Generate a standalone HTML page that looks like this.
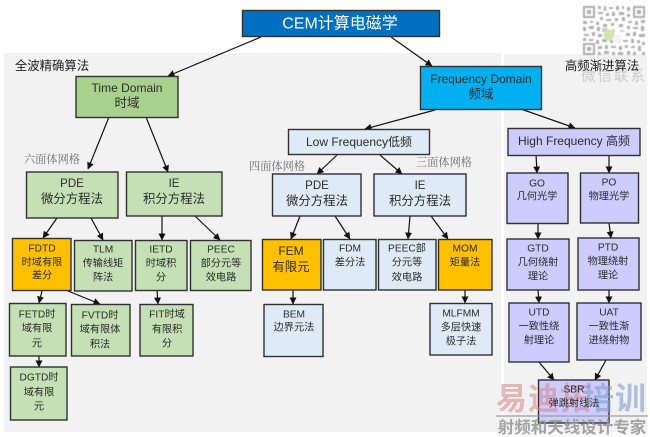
<!DOCTYPE html>
<html><head><meta charset="utf-8">
<style>
html,body{margin:0;padding:0;background:#fff;width:650px;height:437px;overflow:hidden}
svg{display:block}
text{font-family:"Liberation Sans","Noto Sans CJK SC",sans-serif;fill:#2b2b2b;text-anchor:middle;dominant-baseline:central}
.b rect{stroke:#303030;stroke-width:1.4}
.l{fill:#c5e0b4}.d{fill:#a9d18e}.o{fill:#ffc000}.p{fill:#deebf7}.v{fill:#ccccff}
.a line{stroke:#111;stroke-width:1.2;marker-end:url(#h)}
.s{font-size:10.2px}.m{font-size:12.4px}.t{font-size:11.5px}
.g{font-family:"Liberation Serif","Noto Serif CJK SC",serif;font-size:11.2px;fill:#6e6e6e}
</style></head><body>
<svg width="650" height="437" viewBox="0 0 650 437" xmlns="http://www.w3.org/2000/svg">
<defs>
<marker id="h" markerUnits="userSpaceOnUse" markerWidth="8" markerHeight="8" refX="6.5" refY="3.5" orient="auto"><path d="M0 0L7 3.5L0 7Z" fill="#111"/></marker>
<filter id="q" x="-5%" y="-5%" width="110%" height="110%"><feGaussianBlur stdDeviation="0.45"/></filter>
</defs>
<rect width="650" height="437" fill="#fff"/>
<rect x="4" y="53" width="497" height="379" fill="#f2f2f2"/>
<rect x="504" y="54" width="143" height="378" fill="#f2f2f2"/>

<!-- QR watermark -->
<g fill="#a0a0a0" opacity=".85" filter="url(#q)">
<path fill-rule="evenodd" d="M583 6h12v12h-12zM585 8v8h8v-8zM587 10h4v4h-4zM633 6h12v12h-12zM635 8v8h8v-8zM637 10h4v4h-4zM583 43h12v12h-12zM585 45v8h8v-8zM587 47h4v4h-4z"/>
<path d="M598 6h3v3h-3zM604 6h2v5h-2zM609 7h4v2h-4zM616 6h3v4h-3zM622 6h2v3h-2zM627 7h3v4h-3zM598 12h5v2h-5zM606 13h3v3h-3zM612 12h3v4h-3zM619 12h5v3h-5zM627 14h3v3h-3zM600 17h3v3h-3zM606 19h5v2h-5zM615 18h3v3h-3zM622 17h3v4h-3zM583 21h4v3h-4zM590 21h3v2h-3zM596 22h3v3h-3zM628 21h4v2h-4zM635 21h3v4h-3zM641 20h4v3h-4zM583 27h3v4h-3zM589 26h5v3h-5zM597 27h3v4h-3zM603 24h4v3h-4zM611 23h3v3h-3zM619 24h4v3h-4zM627 26h3v3h-3zM633 27h5v2h-5zM641 26h3v5h-3zM584 34h5v2h-5zM592 32h3v4h-3zM598 34h4v3h-4zM626 33h4v3h-4zM633 32h3v4h-3zM639 34h6v3h-6zM583 38h3v3h-3zM589 39h4v2h-4zM596 40h3v4h-3zM602 39h5v3h-5zM610 40h3v3h-3zM617 38h3v5h-3zM623 40h5v2h-5zM631 39h3v4h-3zM637 40h3v3h-3zM642 42h3v3h-3zM598 46h4v3h-4zM605 45h3v4h-3zM611 46h5v2h-5zM619 46h3v4h-3zM625 45h3v3h-3zM631 46h4v2h-4zM638 46h3v5h-3zM598 52h3v3h-3zM604 51h5v3h-5zM612 52h3v3h-3zM618 52h5v3h-5zM627 51h3v4h-3zM633 52h3v3h-3zM642 52h3v3h-3z"/>
<path d="M602 28h6v4h-6zM612 29h3v3h-3zM620 30h4v2h-4z" opacity=".6"/>
</g>
<circle cx="609" cy="35" r="5.5" fill="#cfe6a8"/>
<circle cx="617" cy="39" r="4.5" fill="#f4f4f4"/>
<text x="614" y="77" style="font-size:14.5px;letter-spacing:2px;fill:#cbcbcb">微信联系</text>

<!-- connectors -->
<g class="a">
<line x1="261" y1="37" x2="168" y2="76"/>
<line x1="391" y1="37" x2="432" y2="66"/>
<line x1="109" y1="117" x2="88" y2="169"/>
<line x1="146" y1="117" x2="168" y2="172"/>
<line x1="435" y1="110" x2="365" y2="129"/>
<line x1="518" y1="108" x2="575" y2="128"/>
<line x1="337" y1="155" x2="317" y2="174"/>
<line x1="380" y1="155" x2="402" y2="174"/>
<line x1="536" y1="154" x2="537" y2="173"/>
<line x1="609" y1="156" x2="609" y2="173"/>
<line x1="57" y1="218" x2="43" y2="238"/>
<line x1="91" y1="218" x2="103" y2="240"/>
<line x1="162" y1="216" x2="162" y2="240"/>
<line x1="195" y1="216" x2="220" y2="240"/>
<line x1="300" y1="216" x2="291" y2="239"/>
<line x1="335" y1="216" x2="350" y2="239"/>
<line x1="410" y1="216" x2="408" y2="239"/>
<line x1="431" y1="216" x2="448" y2="239"/>
<line x1="538" y1="224" x2="538" y2="239"/>
<line x1="609" y1="223" x2="611" y2="238"/>
<line x1="42" y1="291" x2="39" y2="303"/>
<line x1="68" y1="291" x2="100" y2="304"/>
<line x1="157" y1="290" x2="158" y2="304"/>
<line x1="293" y1="290" x2="293" y2="304"/>
<line x1="465" y1="290" x2="465" y2="303"/>
<line x1="538" y1="290" x2="539" y2="303"/>
<line x1="609" y1="290" x2="609" y2="303"/>
<line x1="39" y1="354" x2="39" y2="367"/>
<line x1="539" y1="362" x2="554" y2="380"/>
<line x1="606" y1="360" x2="595" y2="380"/>
</g>

<!-- boxes -->
<g class="b">
<rect x="242.5" y="10.5" width="197" height="26" fill="#0070c0"/>
<rect class="d" x="76" y="76.5" width="102" height="41"/>
<rect x="420.5" y="66.5" width="121" height="43" fill="#00b0f0"/>
<rect class="p" x="288.5" y="129.5" width="141" height="25"/>
<rect class="v" x="508" y="128.5" width="132" height="27"/>
<rect class="l" x="26.5" y="172" width="91.5" height="46"/>
<rect class="l" x="126.5" y="172" width="95.5" height="44"/>
<rect class="p" x="272.5" y="174" width="88.5" height="42"/>
<rect class="p" x="374" y="174" width="92" height="42"/>
<rect class="v" x="507" y="173" width="61" height="50.5"/>
<rect class="v" x="580.5" y="173" width="58" height="50"/>
<rect class="o" x="12.5" y="238.5" width="58.5" height="52"/>
<rect class="l" x="74.5" y="240.5" width="57.5" height="50.5"/>
<rect class="l" x="135.5" y="240.5" width="51.5" height="50"/>
<rect class="l" x="190.5" y="240.5" width="60.5" height="50"/>
<rect class="o" x="262.5" y="239.5" width="58.5" height="50.5"/>
<rect class="p" x="323.5" y="239.5" width="52.5" height="50.5"/>
<rect class="p" x="378.5" y="239.5" width="57.5" height="50.5"/>
<rect class="o" x="438.5" y="239.5" width="53.5" height="50.5"/>
<rect class="v" x="507" y="239" width="62" height="51"/>
<rect class="v" x="578" y="238" width="61" height="52"/>
<rect class="l" x="9.5" y="303.5" width="56.5" height="52.5"/>
<rect class="l" x="71.5" y="304.5" width="58.5" height="51.5"/>
<rect class="l" x="140" y="304.5" width="53" height="51.5"/>
<rect class="p" x="264" y="304.5" width="59" height="52"/>
<rect class="p" x="430" y="303.5" width="62" height="51.5"/>
<rect class="v" x="509" y="303" width="60" height="59"/>
<rect class="v" x="577" y="303" width="64" height="57"/>
<rect class="l" x="10.5" y="367" width="56.5" height="53"/>
<rect class="v" x="538.5" y="380" width="70.5" height="43"/>
</g>

<!-- labels -->
<text x="340" y="24" style="font-size:16px;fill:#fff">CEM计算电磁学</text>
<text x="52" y="66" style="font-size:12.4px;fill:#222">全波精确算法</text>
<text x="602" y="66" style="font-size:12.4px;fill:#222">高频渐进算法</text>
<text x="52" y="160" class="g">六面体网格</text>
<text x="277" y="167" class="g">四面体网格</text>
<text x="444" y="163" class="g">三面体网格</text>

<text x="127" y="88" style="font-size:12px">Time Domain</text>
<text x="127" y="103" style="font-size:12.5px">时域</text>
<text x="481" y="79" style="font-size:12px">Frequency Domain</text>
<text x="481" y="94" style="font-size:12.5px">频域</text>
<text x="359" y="142" style="font-size:12px">Low Frequency低频</text>
<text x="574" y="141" style="font-size:12px">High Frequency 高频</text>

<text x="72" y="184" class="t">PDE</text><text x="72" y="199" class="m">微分方程法</text>
<text x="174" y="184" class="t">IE</text><text x="174" y="199" class="m">积分方程法</text>
<text x="317" y="186" class="t">PDE</text><text x="317" y="201" class="m">微分方程法</text>
<text x="420" y="186" class="t">IE</text><text x="420" y="201" class="m">积分方程法</text>
<text x="537" y="184" class="s">GO</text><text x="537" y="197" class="s">几何光学</text>
<text x="609" y="183" class="s">PO</text><text x="609" y="197" class="s">物理光学</text>

<text x="42" y="249" class="s">FDTD</text><text x="42" y="263" class="s">时域有限</text><text x="42" y="276" class="s">差分</text>
<text x="103" y="250" class="s">TLM</text><text x="103" y="264" class="s">传输线矩</text><text x="103" y="278" class="s">阵法</text>
<text x="161" y="250" class="s">IETD</text><text x="161" y="264" class="s">时域积</text><text x="161" y="278" class="s">分</text>
<text x="221" y="250" class="s">PEEC</text><text x="221" y="264" class="s">部分元等</text><text x="221" y="278" class="s">效电路</text>
<text x="291" y="251" style="font-size:12px">FEM</text><text x="291" y="267" class="m">有限元</text>
<text x="350" y="249" class="s">FDM</text><text x="350" y="263" class="s">差分法</text>
<text x="407" y="249" class="s">PEEC部</text><text x="407" y="263" class="s">分元等</text><text x="407" y="278" class="s">效电路</text>
<text x="465" y="249" class="s">MOM</text><text x="465" y="263" class="s">矩量法</text>
<text x="538" y="249" class="s">GTD</text><text x="538" y="263" class="s">几何绕射</text><text x="538" y="277" class="s">理论</text>
<text x="608" y="248" class="s">PTD</text><text x="608" y="262" class="s">物理绕射</text><text x="608" y="276" class="s">理论</text>

<text x="37" y="315" class="s">FETD时</text><text x="37" y="329" class="s">域有限</text><text x="37" y="344" class="s">元</text>
<text x="100" y="316" class="s">FVTD时</text><text x="100" y="330" class="s">域有限体</text><text x="100" y="345" class="s">积法</text>
<text x="167" y="315" class="s">FIT时域</text><text x="167" y="330" class="s">有限积</text><text x="167" y="344" class="s">分</text>
<text x="294" y="315" class="s">BEM</text><text x="294" y="328" class="s">边界元法</text>
<text x="461" y="314" class="s">MLFMM</text><text x="461" y="328" class="s">多层快速</text><text x="461" y="342" class="s">极子法</text>
<text x="539" y="313" class="s">UTD</text><text x="539" y="327" class="s">一致性绕</text><text x="539" y="341" class="s">射理论</text>
<text x="609" y="313" class="s">UAT</text><text x="609" y="327" class="s">一致性渐</text><text x="609" y="341" class="s">进绕射物</text>
<text x="39" y="378" class="s">DGTD时</text><text x="39" y="393" class="s">域有限</text><text x="39" y="407" class="s">元</text>

<!-- watermark -->
<text x="544" y="399" style="font-size:31px;font-weight:bold;fill:#d98a8e;opacity:.58;letter-spacing:1px">易迪拓</text>
<text x="615" y="399" style="font-size:31px;font-weight:bold;fill:#7f9fce;opacity:.6;letter-spacing:1px">培训</text>
<rect x="496" y="415" width="152" height="2" fill="#999" opacity=".6"/>
<text x="572" y="428" style="font-size:16.5px;font-weight:bold;fill:#9a9a9a;opacity:.9">射频和天线设计专家</text>
<text x="574" y="390" class="s">SBR</text><text x="574" y="404" class="s">弹跳射线法</text>
</svg>
</body></html>
